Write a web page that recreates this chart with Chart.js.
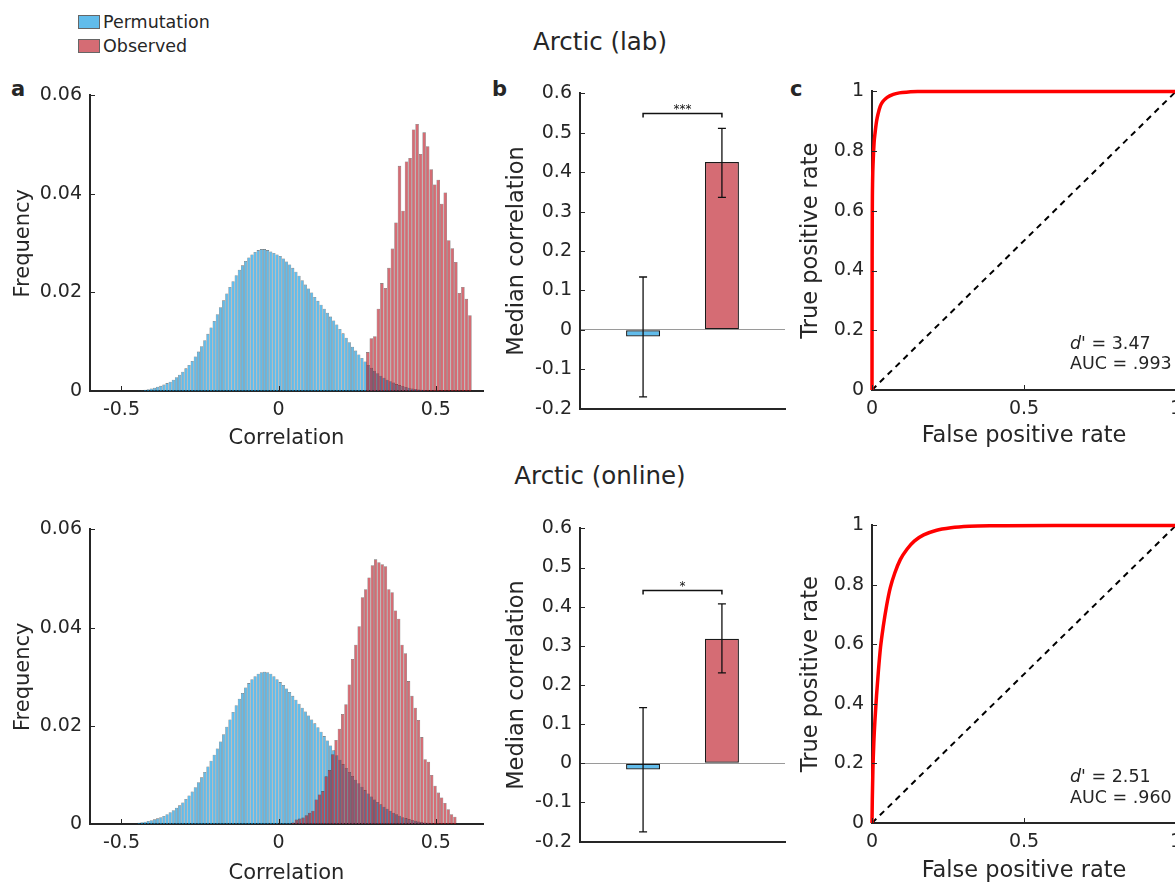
<!DOCTYPE html>
<html lang="en">
<head>
<meta charset="utf-8">
<title>Arctic – permutation vs observed correlations</title>
<script src="https://cdn.jsdelivr.net/npm/chart.js@4.4.1/dist/chart.umd.min.js"></script>
<style>
  html, body { margin: 0; padding: 0; width: 1175px; height: 883px; overflow: hidden; background: #fff; }
  body { position: relative; font-family: "DejaVu Sans", sans-serif; color: #262626; }
  .panel { position: absolute; }
  .txt { position: absolute; line-height: 1; white-space: nowrap; }
  .letter { font-weight: bold; font-size: 21px; }
  .title { font-size: 24.5px; left: 400px; width: 400px; text-align: center; }
  .legend { font-size: 17.5px; left: 103px; }
  .swatch { position: absolute; left: 78px; width: 20px; height: 12px; border: 1px solid #666; }
  .stat { font-size: 17.5px; left: 1070px; }
</style>
</head>
<body>
  <!-- legend -->
  <div class="swatch" style="top:15px; background:rgba(0,147,223,0.62)"></div>
  <div class="txt legend" style="top:14px">Permutation</div>
  <div class="swatch" style="top:39px; background:rgba(188,17,30,0.62)"></div>
  <div class="txt legend" style="top:38px">Observed</div>

  <!-- row titles + panel letters -->
  <div class="txt title" style="top:30px">Arctic (lab)</div>
  <div class="txt title" style="top:464px">Arctic (online)</div>
  <div class="txt letter" style="left:11px; top:79px">a</div>
  <div class="txt letter" style="left:492px; top:79px">b</div>
  <div class="txt letter" style="left:790px; top:79px">c</div>

  <!-- top row -->
  <div class="panel" style="left:0; top:76px"><canvas id="lab-hist" width="493" height="375"></canvas></div>
  <div class="panel" style="left:500px; top:74px"><canvas id="lab-bar" width="295" height="354"></canvas></div>
  <div class="panel" style="left:792px; top:72px"><canvas id="lab-roc" width="404" height="378"></canvas></div>

  <!-- bottom row -->
  <div class="panel" style="left:0; top:510px"><canvas id="online-hist" width="493" height="376"></canvas></div>
  <div class="panel" style="left:500px; top:509px"><canvas id="online-bar" width="295" height="352"></canvas></div>
  <div class="panel" style="left:792px; top:506px"><canvas id="online-roc" width="404" height="379"></canvas></div>

  <div class="txt stat" style="top:335px"><i>d</i>' = 3.47</div>
  <div class="txt stat" style="top:355px">AUC = .993</div>
  <div class="txt stat" style="top:768px"><i>d</i>' = 2.51</div>
  <div class="txt stat" style="top:789px">AUC = .960</div>

<script>
/* ── Data: histograms (frequency per bin) ── */
const permFirstBin = -0.445;          // centre of first permutation bin
const permBinStep = 0.01;

const labPermFreq = [
  0.0001, 0.00015, 0.00025, 0.00035, 0.0005, 0.00065, 0.00085, 0.00105, 0.0013, 0.0016,
  0.0019, 0.0023, 0.0028, 0.0033, 0.0039, 0.0046, 0.0053, 0.0061, 0.007, 0.008,
  0.0091, 0.0103, 0.0116, 0.0129, 0.0142, 0.0156, 0.017, 0.0184, 0.0198, 0.0211,
  0.0223, 0.0235, 0.0246, 0.0255, 0.0264, 0.0271, 0.0277, 0.0282, 0.0286, 0.0288,
  0.0288, 0.0286, 0.0283, 0.028, 0.0277,
  0.0274, 0.0269, 0.0263, 0.0257, 0.025, 0.0242, 0.0234, 0.0225, 0.0216, 0.0208,
  0.02, 0.0191, 0.0183, 0.0175, 0.0167, 0.0159, 0.0151, 0.0143, 0.0135, 0.0126,
  0.0117, 0.0108, 0.0099, 0.009, 0.0082, 0.0074, 0.0067, 0.006, 0.0053, 0.0047,
  0.0041, 0.0036, 0.0031, 0.0027, 0.0023, 0.002, 0.0017, 0.0014, 0.0012, 0.001,
  0.0008, 0.00065, 0.0005, 0.0004, 0.0003, 0.00025, 0.0002, 0.00015, 0.0001, 0.00008,
  0.00006, 0.00005, 0.00004, 0.00003, 0.00002, 0.00002
];

const labObsFirstBin = 0.2836;
const labObsBinStep = 0.0112;
const labObsFreq = [
  0.0079, 0.0107, 0.0111, 0.0167, 0.0219, 0.0209, 0.025, 0.0289, 0.0342, 0.0457,
  0.0366, 0.0466, 0.0473, 0.0531, 0.0542, 0.0481, 0.0525, 0.0497, 0.045, 0.0419,
  0.0429, 0.038, 0.0403, 0.0306, 0.029, 0.0262, 0.0199, 0.0211, 0.0187, 0.0154
];

const onlinePermFreq = [
  0.00025, 0.00035, 0.00045, 0.0006, 0.00075, 0.00095, 0.00115, 0.0014, 0.00165, 0.002,
  0.0024, 0.0028, 0.0033, 0.0038, 0.0044, 0.0051, 0.0058, 0.0066, 0.0075, 0.0085,
  0.0095, 0.0106, 0.0117, 0.0129, 0.0141, 0.0154, 0.0168, 0.0183, 0.0198, 0.0213,
  0.0228, 0.0242, 0.0255, 0.0267, 0.0278, 0.0287, 0.0295, 0.0301, 0.0306, 0.0309,
  0.031, 0.0309, 0.0306, 0.0301, 0.0295,
  0.0289, 0.0283, 0.0276, 0.0269, 0.0261, 0.0253, 0.0245, 0.0237, 0.0229, 0.0221,
  0.0213, 0.0205, 0.0197, 0.0188, 0.0179, 0.017, 0.016, 0.015, 0.014, 0.0131,
  0.0122, 0.0114, 0.0106, 0.0098, 0.009, 0.0083, 0.0076, 0.0069, 0.0062, 0.0056,
  0.005, 0.0045, 0.004, 0.0035, 0.0031, 0.0027, 0.0023, 0.002, 0.0017, 0.0014,
  0.0012, 0.001, 0.0008, 0.00065, 0.0005, 0.0004, 0.0003, 0.00025, 0.0002, 0.00015,
  0.00012, 0.0001, 0.00008, 0.00006, 0.00005, 0.00004
];

const onlineObsFirstBin = 0.046;
const onlineObsBinStep = 0.0105;
const onlineObsFreq = [
  0.0003, 0.0009, 0.0011, 0.0013, 0.0018, 0.0023, 0.0027, 0.005, 0.006, 0.0067,
  0.0097, 0.011, 0.0142, 0.0171, 0.0194, 0.0224, 0.0244, 0.0284, 0.0336, 0.0365,
  0.0403, 0.0462, 0.0478, 0.0502, 0.0527, 0.0539, 0.0533, 0.0529, 0.0525, 0.0478,
  0.0472, 0.0435, 0.0418, 0.0365, 0.0348, 0.0291, 0.0261, 0.0237, 0.0212, 0.0177,
  0.0132, 0.0127, 0.01, 0.0078, 0.0064, 0.0054, 0.0043, 0.003, 0.002, 0.0015
];

/* ── Data: median correlations with error bars ── */
const barGroups = [1, 2];                       // Permutation, Observed
const labMedian = [-0.017, 0.426];
const labErrLow = [-0.170, 0.336];
const labErrHigh = [0.134, 0.511];
const labSigLevel = 0.551;
const labSigLabel = '***';

const onlineMedian = [-0.016, 0.318];
const onlineErrLow = [-0.175, 0.231];
const onlineErrHigh = [0.142, 0.407];
const onlineSigLevel = 0.442;
const onlineSigLabel = '*';

/* ── Data: ROC curves ── */
const labRocFpr = [0, 0.0005, 0.001, 0.002, 0.004, 0.007, 0.01, 0.015, 0.02, 0.027, 0.035, 0.05, 0.07, 0.09, 0.12, 0.15, 0.25, 0.5, 1];
const labRocTpr = [0, 0.45, 0.6, 0.7, 0.77, 0.83, 0.86, 0.9, 0.925, 0.95, 0.965, 0.98, 0.99, 0.995, 0.998, 1, 1, 1, 1];

const onlineRocFpr = [0, 0.001, 0.003, 0.006, 0.01, 0.015, 0.021, 0.028, 0.037, 0.048, 0.06, 0.075, 0.093, 0.115, 0.14, 0.17, 0.21, 0.26, 0.32, 0.4, 0.6, 1];
const onlineRocTpr = [0, 0.08, 0.18, 0.27, 0.35, 0.43, 0.51, 0.59, 0.66, 0.73, 0.79, 0.84, 0.885, 0.92, 0.948, 0.968, 0.983, 0.992, 0.997, 0.999, 1, 1];

const chanceFpr = [0, 1];
const chanceTpr = [0, 1];

(function () {
  'use strict';

  const INK = '#262626';
  const BLUE = 'rgba(0,147,223,0.62)';
  const RED = 'rgba(188,17,30,0.62)';
  const EDGE = 'rgba(25,25,25,0.62)';

  Chart.defaults.font.family = '"DejaVu Sans", sans-serif';
  Chart.defaults.color = INK;

  const tickFont = { size: 19 };
  const histTitleFont = { size: 21 };
  const titleFont = { size: 22.5 };

  /* ── Helpers ────────────────────────────────────────────── */
  function binned(first, step, freqs) {
    return freqs.map((f, i) => ({ x: first + i * step, y: f }));
  }

  function pairs(xs, ys) {
    return xs.map((x, i) => ({ x: x, y: ys[i] }));
  }

  /* "1" instead of "1.0", "0" instead of "0.0" */
  const plainNumber = v => String(Math.round(v * 1000) / 1000);

  /* small inward tick marks, MATLAB style */
  const inwardTicks = {
    id: 'inTicks',
    afterDatasetsDraw(chart, args, opts) {
      const { ctx, chartArea: a } = chart;
      ctx.save();
      ctx.strokeStyle = INK;
      ctx.lineWidth = 1;
      ctx.beginPath();
      if (opts.x) {
        const xs = chart.scales.x;
        xs.ticks.forEach((t, i) => {
          const px = Math.round(xs.getPixelForTick(i)) + 0.5;
          ctx.moveTo(px, a.bottom);
          ctx.lineTo(px, a.bottom - 5);
        });
      }
      if (opts.y) {
        const ys = chart.scales.y;
        ys.ticks.forEach((t, i) => {
          const py = Math.round(ys.getPixelForTick(i)) + 0.5;
          ctx.moveTo(a.left, py);
          ctx.lineTo(a.left + 5, py);
        });
      }
      ctx.stroke();
      ctx.restore();
    }
  };

  /* error bars + significance bracket for the bar panels */
  const errorBars = {
    id: 'errorBars',
    afterDatasetsDraw(chart, args, opts) {
      if (!opts.low) return;
      const { ctx } = chart;
      const xs = chart.scales.x;
      const ys = chart.scales.y;
      ctx.save();
      ctx.strokeStyle = '#111';
      ctx.lineWidth = 1.3;
      opts.groups.forEach((g, i) => {
        const px = xs.getPixelForValue(g);
        const lo = ys.getPixelForValue(opts.low[i]);
        const hi = ys.getPixelForValue(opts.high[i]);
        ctx.beginPath();
        ctx.moveTo(px, lo); ctx.lineTo(px, hi);
        ctx.moveTo(px - 4, lo); ctx.lineTo(px + 4, lo);
        ctx.moveTo(px - 4, hi); ctx.lineTo(px + 4, hi);
        ctx.stroke();
      });

      const x1 = xs.getPixelForValue(opts.groups[0]);
      const x2 = xs.getPixelForValue(opts.groups[1]);
      const by = Math.round(ys.getPixelForValue(opts.sigLevel)) + 0.5;
      ctx.lineWidth = 1.5;
      ctx.beginPath();
      ctx.moveTo(x1, by + 4); ctx.lineTo(x1, by); ctx.lineTo(x2, by); ctx.lineTo(x2, by + 4);
      ctx.stroke();
      ctx.fillStyle = '#111';
      ctx.font = '12px "DejaVu Sans", sans-serif';
      ctx.textAlign = 'center';
      ctx.textBaseline = 'bottom';
      ctx.fillText(opts.sigLabel, (x1 + x2) / 2, by + 2);
      ctx.restore();
    }
  };

  function yAxis(min, max, step, title, font, width, titlePad, extra) {
    return Object.assign({
      type: 'linear',
      min: min,
      max: max,
      ticks: { stepSize: step, padding: 8, font: tickFont, color: INK, callback: plainNumber },
      grid: { display: false, drawTicks: false },
      border: { color: INK, width: 2 },
      title: { display: true, text: title, font: font, color: INK, padding: { top: titlePad, bottom: 0 } },
      afterFit(s) { s.width = width; }
    }, extra || {});
  }

  function xAxis(min, max, step, title, font, height) {
    return {
      type: 'linear',
      offset: false,
      min: min,
      max: max,
      ticks: { stepSize: step, includeBounds: false, padding: 8, font: tickFont, color: INK, maxRotation: 0, callback: plainNumber },
      grid: { display: false, drawTicks: false, offset: false },
      border: { color: INK, width: 2 },
      title: { display: true, text: title, font: font, color: INK, padding: { top: 0, bottom: 0 } },
      afterFit(s) { s.height = height; }
    };
  }

  const basePlugins = { legend: { display: false }, tooltip: { enabled: false } };
  const basePadding = { top: 15, right: 10, bottom: 0, left: 0 };
  const rocPadding = { top: 15, right: 20, bottom: 0, left: 0 };

  /* ── Histogram panels (a) ───────────────────────────────── */
  function histChart(id, perm, obs, xTitleHeight) {
    const barStyle = {
      barPercentage: 1,
      categoryPercentage: 1,
      grouped: false,
      inflateAmount: 0,
      borderWidth: 0.55,
      borderColor: EDGE
    };
    return new Chart(document.getElementById(id), {
      type: 'bar',
      data: {
        datasets: [
          Object.assign({ label: 'Permutation', data: perm, xAxisID: 'x', backgroundColor: BLUE, order: 1 }, barStyle),
          Object.assign({ label: 'Observed', data: obs, xAxisID: 'xObs', backgroundColor: RED, order: 0 }, barStyle)
        ]
      },
      options: {
        responsive: false,
        animation: false,
        layout: { padding: basePadding },
        plugins: Object.assign({ inTicks: { x: true, y: true } }, basePlugins),
        scales: {
          x: xAxis(-0.6, 0.65, 0.5, 'Correlation', histTitleFont, xTitleHeight),
          xObs: { type: 'linear', offset: false, min: -0.6, max: 0.65, display: false },
          y: yAxis(0, 0.06, 0.02, 'Frequency', histTitleFont, 90, 11)
        }
      },
      plugins: [inwardTicks]
    });
  }

  /* ── Median-correlation bar panels (b) ──────────────────── */
  function barChart(id, medians, low, high, sigLevel, sigLabel) {
    return new Chart(document.getElementById(id), {
      type: 'bar',
      data: {
        datasets: [{
          data: pairs(barGroups, medians),
          backgroundColor: [BLUE, RED],
          borderColor: '#1a1a1a',
          borderWidth: 1.2,
          borderSkipped: false,
          barThickness: 34,
          inflateAmount: 0
        }]
      },
      options: {
        responsive: false,
        animation: false,
        layout: { padding: basePadding },
        plugins: Object.assign({
          inTicks: { x: false, y: true },
          errorBars: { groups: barGroups, low: low, high: high, sigLevel: sigLevel, sigLabel: sigLabel }
        }, basePlugins),
        scales: {
          x: {
            type: 'linear',
            offset: false,
            min: 0.2,
            max: 2.8,
            ticks: { display: false },
            grid: { display: false, drawTicks: false, offset: false },
            border: { color: INK, width: 2 },
            afterFit(s) { s.height = 10; }
          },
          y: yAxis(-0.2, 0.6, 0.1, 'Median correlation', titleFont, 80, 4, {
            grid: {
              display: true,
              drawTicks: false,
              lineWidth: 1,
              color: c => (c.tick && Math.abs(c.tick.value) < 1e-9 ? '#9a9a9a' : 'rgba(0,0,0,0)')
            }
          })
        }
      },
      plugins: [inwardTicks, errorBars]
    });
  }

  /* ── ROC panels (c) ─────────────────────────────────────── */
  function rocChart(id, fpr, tpr, xTitleHeight) {
    return new Chart(document.getElementById(id), {
      type: 'line',
      data: {
        datasets: [
          {
            data: pairs(fpr, tpr),
            borderColor: '#ff0000',
            borderWidth: 3.5,
            pointRadius: 0,
            cubicInterpolationMode: 'monotone',
            clip: false,
            order: 0
          },
          {
            data: pairs(chanceFpr, chanceTpr),
            borderColor: '#000',
            borderWidth: 2,
            borderDash: [6, 5],
            pointRadius: 0,
            clip: false,
            order: 1
          }
        ]
      },
      options: {
        responsive: false,
        animation: false,
        layout: { padding: rocPadding },
        plugins: Object.assign({ inTicks: { x: true, y: true } }, basePlugins),
        scales: {
          x: xAxis(0, 1, 0.5, 'False positive rate', titleFont, xTitleHeight),
          y: yAxis(0, 1, 0.2, 'True positive rate', titleFont, 80, 6)
        }
      },
      plugins: [inwardTicks]
    });
  }

  histChart('lab-hist', binned(permFirstBin, permBinStep, labPermFreq), binned(labObsFirstBin, labObsBinStep, labObsFreq), 60);
  histChart('online-hist', binned(permFirstBin, permBinStep, onlinePermFreq), binned(onlineObsFirstBin, onlineObsBinStep, onlineObsFreq), 62);

  barChart('lab-bar', labMedian, labErrLow, labErrHigh, labSigLevel, labSigLabel);
  barChart('online-bar', onlineMedian, onlineErrLow, onlineErrHigh, onlineSigLevel, onlineSigLabel);

  rocChart('lab-roc', labRocFpr, labRocTpr, 60);
  rocChart('online-roc', onlineRocFpr, onlineRocTpr, 62);
})();
</script>
</body>
</html>
